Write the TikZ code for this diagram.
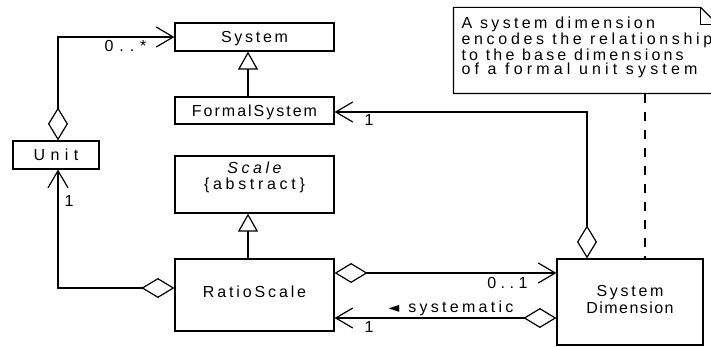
\documentclass[tikz,border=0pt]{standalone}
\usepackage{fontspec}
\setmainfont{Liberation Sans}[LetterSpace=18]
\newfontfamily\symfont{DejaVu Sans}
\usetikzlibrary{arrows.meta}

\newcommand\umlsize{\fontsize{16}{16.5}\selectfont}
\newcommand\notesize{\fontsize{16}{14.5}\selectfont}
% text with its own tracking (percent of the font size)
\newcommand\tracked[2]{{\addfontfeatures{LetterSpace=#1}#2}}

\begin{document}
\begin{tikzpicture}[x=1pt, y=-1pt, line width=1.2pt,
  box/.style={draw, rectangle, inner sep=0pt, text height=12pt, text depth=0pt, font=\umlsize},
  txt/.style={inner sep=0pt, font=\umlsize},
  aggarrow/.style={arrows={Diamond[fill=white, length=33pt, width=20pt]-Straight Barb[length=17pt, width=20pt]}},
  gen/.style={arrows={-Triangle[fill=white, length=18pt, width=20pt]}},
  notelink/.style={dash pattern=on 9pt off 9pt}]

  % canvas
  \path[use as bounding box] (0,0) rectangle (711,347);
  \fill[white] (0,0) rectangle (711,347);
  \clip (0,0) rectangle (711,347);

  % classes
  \node[box, minimum width=159pt, minimum height=28pt] (system) at (254.5,37) {\tracked{17}{System}};
  \node[box, minimum width=159pt, minimum height=27pt] (formal) at (254.5,110.5) {\tracked{12.5}{FormalSystem}};
  \node[box, minimum width=86pt, minimum height=28pt] (unit) at (56,155) {\tracked{34}{Unit}};
  \node[box, minimum width=159pt, minimum height=57pt] (scale) at (254.5,184.5) {};
  \node[txt, anchor=base] (scalename) at ([yshift=11pt]scale.center) {\itshape\tracked{22}{Scale}};
  \node[txt, anchor=base] (scaletag) at ([yshift=-5.5pt]scale.center) {\tracked{23}{\{abstract\}}};
  \node[box, minimum width=159pt, minimum height=72pt, text depth=8pt] (ratio) at (254.5,295) {RatioScale};
  \node[box, minimum width=146pt, minimum height=86pt] (sd) at (630,302) {};
  \node[txt, anchor=base] (sdname1) at ([yshift=5.3pt]sd.center) {\tracked{17}{System}};
  \node[txt, anchor=base] (sdname2) at ([yshift=-11.3pt]sd.center) {\tracked{9}{Dimension}};

  % note with folded corner
  \node[minimum width=263pt, minimum height=85pt, inner sep=0pt] (note) at (585.5,50.5) {};
  \draw (note.south west) -- (note.north west) -- ([xshift=-17pt]note.north east)
        -- ([yshift=-17pt]note.north east) -- (note.south east) -- cycle;
  \draw ([xshift=-17pt]note.north east) |- ([yshift=-17pt]note.north east);
  \node[inner sep=0pt, font=\notesize, align=left, anchor=north west] (notetext) at (461,16)
    {\tracked{21}{A system dimension}\\
     \tracked{23}{encodes the relationship}\\
     \tracked{20}{to the base dimensions}\\
     \tracked{26}{of a formal unit system}};

  % generalisations
  \draw[gen] ([xshift=-6.5pt]formal.north) -- ([xshift=-6.5pt]system.south);
  \draw[gen] ([xshift=-6.5pt]ratio.north) -- ([xshift=-6.5pt]scale.south);

  % aggregations
  \draw[aggarrow] ([xshift=2pt]unit.north) |- (system.west);
  \draw[aggarrow] ([yshift=7pt]ratio.west) -| ([xshift=2pt]unit.south);
  \coordinate (r1) at ([yshift=22pt]ratio.east);
  \draw[aggarrow] (r1) -- (r1 -| sd.west);
  \coordinate (s1) at ([yshift=-16pt]sd.west);
  \draw[aggarrow] (s1) -- (s1 -| ratio.east);
  \coordinate (s2) at ([xshift=-43pt]sd.north);
  \draw[aggarrow] (s2) |- ([yshift=-1.5pt]formal.east);

  % note link
  \coordinate (d1) at ([xshift=15pt]sd.north);
  \draw[notelink] (d1 |- note.south) -- (d1);

  % multiplicities and role names
  \node[txt, anchor=base east] (m1) at (147,52) {\tracked{37}{0..*}};
  \node[txt, anchor=base west] (m2) at (64,207) {1};
  \node[txt, anchor=base west] (m3) at (364,126) {1};
  \node[txt, anchor=base east] (m4) at (528,288) {\tracked{28}{0..1}};
  \node[txt, anchor=base west] (m5) at (364,332) {1};
  \node[txt, anchor=base east] (role) at (514,312)
    {{\symfont\fontsize{14}{14}\selectfont ◄}\hspace{9pt}\tracked{20.5}{systematic}};
\end{tikzpicture}
\end{document}
